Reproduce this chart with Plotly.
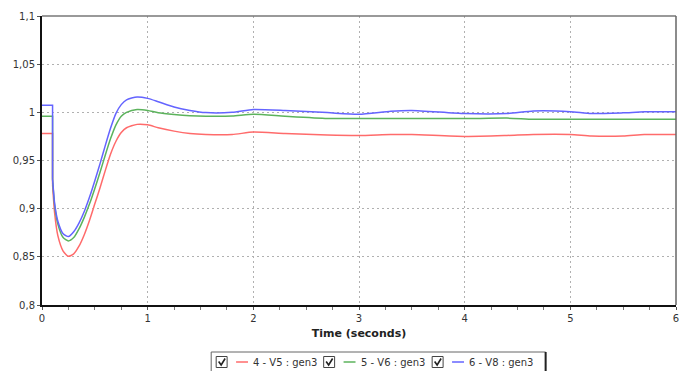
import plotly.graph_objects as go

# ---- data: generator bus voltages (p.u.) after a fault ----
time_s = [0, 0.1, 0.1, 0.12, 0.15, 0.2, 0.25, 0.3, 0.35, 0.4, 0.45, 0.5, 0.55,
          0.6, 0.65, 0.7, 0.75, 0.8, 0.9, 1.0, 1.1, 1.25, 1.4, 1.55, 1.8, 2.0,
          2.3, 2.7, 3.0, 3.3, 3.5, 4.0, 4.4, 4.65, 5.0, 5.2, 5.5, 5.7, 6.0]

v5_gen3 = [0.978, 0.978, 0.925, 0.895, 0.872, 0.856, 0.8505, 0.853, 0.861, 0.873,
           0.888, 0.905, 0.922, 0.940, 0.957, 0.970, 0.979, 0.984, 0.9875, 0.987,
           0.984, 0.9805, 0.978, 0.977, 0.977, 0.9795, 0.978, 0.9765, 0.976,
           0.977, 0.977, 0.975, 0.976, 0.977, 0.977, 0.9755, 0.9755, 0.977, 0.977]

v6_gen3 = [0.996, 0.996, 0.930, 0.903, 0.884, 0.870, 0.8665, 0.870, 0.879, 0.891,
           0.905, 0.921, 0.938, 0.956, 0.973, 0.987, 0.996, 1.000, 1.003, 1.002,
           0.9995, 0.9977, 0.9965, 0.996, 0.9962, 0.998, 0.996, 0.9937, 0.9935,
           0.9935, 0.9935, 0.9935, 0.994, 0.9928, 0.9928, 0.9928, 0.9928, 0.9928,
           0.9928]

v8_gen3 = [1.0073, 1.0073, 0.931, 0.905, 0.887, 0.874, 0.871, 0.876, 0.885, 0.897,
           0.912, 0.929, 0.947, 0.966, 0.984, 0.999, 1.008, 1.013, 1.016, 1.0145,
           1.011, 1.0055, 1.002, 0.9997, 1.000, 1.003, 1.002, 0.9997, 0.998,
           1.0012, 1.002, 0.9987, 0.9987, 1.0014, 1.0007, 0.9987, 0.9995, 1.0005,
           1.0005]

series_names = ["4 - V5 : gen3", "5 - V6 : gen3", "6 - V8 : gen3"]
series_values = [v5_gen3, v6_gen3, v8_gen3]
series_colors = ["#ff6b6b", "#5cb35c", "#6464ff"]

x_ticks = [0, 1, 2, 3, 4, 5, 6]
y_ticks = [0.8, 0.85, 0.9, 0.95, 1.0, 1.05, 1.1]

# index where the fault is applied (the vertical step)
STEP = 2

# ---- figure geometry (pixels) ----
W, H = 689, 371
ML, MR, MT, MB = 42, 10, 16, 66
PW, PH = W - ML - MR, H - MT - MB


def px(x):
    return (x - ML) / PW


def py(y):
    return (H - MB - y) / PH


FONT = "DejaVu Sans"

fig = go.Figure()
for name, vals, col in zip(series_names, series_values, series_colors):
    # pre-fault level and the step itself: straight segments
    fig.add_trace(go.Scatter(
        x=time_s[:STEP + 1], y=vals[:STEP + 1], name=name, mode="lines",
        line=dict(color=col, width=1.5, shape="linear"), showlegend=False,
    ))
    # post-fault response: smooth curve
    fig.add_trace(go.Scatter(
        x=time_s[STEP:], y=vals[STEP:], name=name, mode="lines",
        line=dict(color=col, width=1.5, shape="spline", smoothing=0.6),
        showlegend=False,
    ))

fig.update_layout(
    width=W, height=H,
    margin=dict(l=ML, r=MR, t=MT, b=MB),
    paper_bgcolor="white", plot_bgcolor="white",
    separators=", ",
    font=dict(family=FONT, size=10, color="#333"),
)

fig.update_xaxes(
    range=[0, 6], tickvals=x_ticks, showline=True, linecolor="#111", linewidth=2,
    ticks="outside", ticklen=3, tickcolor="#555",
    minor=dict(dtick=0.25, ticks="outside", ticklen=3, tickcolor="#777", showgrid=False),
    showgrid=True, gridcolor="#b0b0b0", gridwidth=1, griddash="2px,3px",
    zeroline=False, tickfont=dict(size=10, color="#333"),
    title=dict(text="<b>Time (seconds)</b>", font=dict(size=11, color="#222"), standoff=6),
)
fig.update_yaxes(
    range=[0.8, 1.1], tickvals=y_ticks, showline=True, linecolor="#111", linewidth=2,
    ticks="outside", ticklen=3, tickcolor="#555",
    showgrid=True, gridcolor="#b0b0b0", gridwidth=1, griddash="2px,3px",
    zeroline=False, tickfont=dict(size=10, color="#333"),
)

shapes = []
# top and right frame edges
shapes.append(dict(type="line", xref="paper", yref="paper", x0=0, x1=1, y0=1, y1=1,
                   line=dict(color="#777", width=1.5)))
shapes.append(dict(type="line", xref="paper", yref="paper", x0=1, x1=1, y0=0, y1=1,
                   line=dict(color="#666", width=1.5)))

# legend box with checkboxes
LX0, LX1, LY0, LY1 = 212, 548, 352, 378
shapes.append(dict(type="rect", xref="paper", yref="paper",
                   x0=px(LX0), x1=px(LX1), y0=py(LY1), y1=py(LY0),
                   line=dict(color="#666", width=1), fillcolor="white"))
shapes.append(dict(type="line", xref="paper", yref="paper",
                   x0=px(LX1), x1=px(LX1), y0=py(LY1), y1=py(LY0),
                   line=dict(color="#222", width=2)))

annotations = []
item_left = [217, 325, 434]
cy = 362
for c, name, col in zip(item_left, series_names, series_colors):
    # checkbox
    shapes.append(dict(type="rect", xref="paper", yref="paper",
                       x0=px(c), x1=px(c + 11), y0=py(cy + 5.5), y1=py(cy - 5.5),
                       line=dict(color="#444", width=1), fillcolor="white"))
    shapes.append(dict(type="path", xref="paper", yref="paper",
                       path=(f"M {px(c + 2.5)} {py(cy - 0.5)} L {px(c + 5)} {py(cy + 3)} "
                             f"L {px(c + 9)} {py(cy - 3.5)}"),
                       line=dict(color="#222", width=1.6)))
    # line sample
    shapes.append(dict(type="line", xref="paper", yref="paper",
                       x0=px(c + 20), x1=px(c + 32), y0=py(cy), y1=py(cy),
                       line=dict(color=col, width=1.5)))
    annotations.append(dict(xref="paper", yref="paper", x=px(c + 35), y=py(cy),
                            text=name, showarrow=False, xanchor="left", yanchor="middle",
                            font=dict(family=FONT, size=10, color="#333")))

fig.update_layout(shapes=shapes, annotations=annotations)
fig.write_html("out.html")
